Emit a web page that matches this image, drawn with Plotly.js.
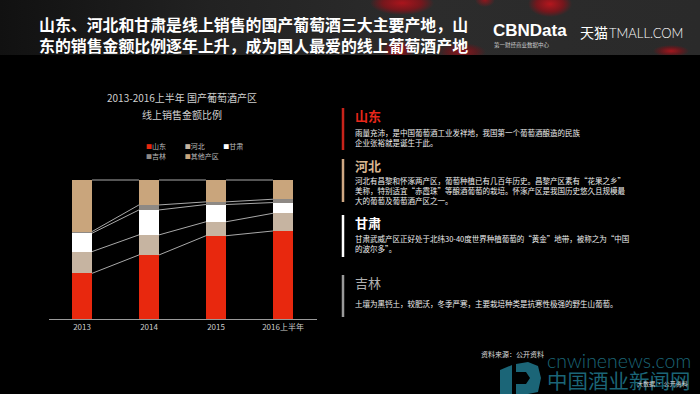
<!DOCTYPE html>
<html><head><meta charset="utf-8">
<script src="https://cdn.plot.ly/plotly-3.0.1.min.js"></script>
<style>
html,body{margin:0;padding:0;background:#000;}
#wrap{position:relative;width:700px;height:394px;background:#000;overflow:hidden;}
#hdr{position:absolute;left:0;top:0;width:700px;height:55px;
  background:
    radial-gradient(ellipse 32px 12px at 402px 3px, rgba(185,18,27,0.9) 0%, rgba(150,14,22,0.7) 60%, rgba(0,0,0,0) 100%),
    radial-gradient(ellipse 16px 10px at 398px 50px, rgba(185,18,27,0.85) 0%, rgba(140,12,20,0.6) 60%, rgba(0,0,0,0) 100%),
    radial-gradient(ellipse 24px 9px at 462px 52px, rgba(165,16,24,0.8) 0%, rgba(130,12,20,0.5) 60%, rgba(0,0,0,0) 100%),
    radial-gradient(ellipse 22px 13px at 550px 4px, rgba(195,20,28,0.9) 0%, rgba(150,14,22,0.7) 60%, rgba(0,0,0,0) 100%),
    radial-gradient(ellipse 10px 7px at 485px 0px, rgba(170,17,25,0.8) 0%, rgba(0,0,0,0) 100%),
    radial-gradient(ellipse 18px 6px at 671px 51px, rgba(185,18,27,0.85) 0%, rgba(140,12,20,0.5) 60%, rgba(0,0,0,0) 100%),
    linear-gradient(90deg,#111 0%,#222 30%,#2c2c2c 60%,#2a2a2a 100%);}
#chart{position:absolute;left:0;top:0;width:700px;height:394px;}
#chart .legendpoints{display:none;}
</style></head>
<body><div id="wrap"><div id="hdr"></div><div id="chart"></div></div>
<script>
// ---- data ----
const categories = ['2013', '2014', '2015', '2016上半年'];
const seriesNames = ['山东', '河北', '甘肃', '吉林', '其他产区'];
const shandong = [33.0, 46.2, 60.0, 63.4];
const hebei    = [15.6, 14.4, 10.0, 12.7];
const gansu    = [13.2, 17.9, 12.4, 7.7];
const jilin    = [1.2, 3.6, 1.9, 2.4];
const others   = [37.0, 17.9, 15.7, 13.8];
const chartTitle = ['2013-2016上半年 国产葡萄酒产区', '线上销售金额比例'];
const headline = ['山东、河北和甘肃是线上销售的国产葡萄酒三大主要产地，山', '东的销售金额比例逐年上升，成为国人最爱的线上葡萄酒产地'];

// ---- styles ----
const W = 700, H = 394;
const px = x => x / W, py = y => 1 - y / H;
const CJK = '"Noto Sans CJK SC", "Noto Sans", sans-serif';
const colors = ['#e8280e', '#c6b4a1', '#ffffff', '#8e8984', '#c9a57c'];
const BAR_W = 0.3;
const seriesValues = [shandong, hebei, gansu, jilin, others];
const legendIds = ['legend', 'legend2', 'legend3', 'legend4', 'legend5'];
const legendPos = [[146, 146.7], [184.7, 146.7], [223.3, 146.7], [146, 156], [184.7, 156]];
const LEG_OFF = 40;
const BODY = 7.5;

const traces = seriesValues.map((vals, s) => ({
  type: 'bar',
  x: categories.map((c, i) => i),
  y: vals,
  width: BAR_W,
  name: '<span style="color:' + colors[s] + ';font-size:6px">■</span>' + seriesNames[s],
  marker: { color: colors[s], line: { width: 0 } },
  legend: legendIds[s],
  hoverinfo: 'skip'
}));

// connector lines between stacked boundaries
let run = categories.map(() => 0);
seriesValues.forEach(v => {
  run = run.map((r, i) => r + v[i]);
  const xs = [], ys = [];
  for (let i = 0; i < categories.length - 1; i++) {
    xs.push(i + BAR_W / 2, i + 1 - BAR_W / 2, null);
    ys.push(run[i], run[i + 1], null);
  }
  traces.push({ type: 'scatter', mode: 'lines', x: xs, y: ys, connectgaps: false,
    line: { color: '#a9a9a9', width: 1 }, showlegend: false, hoverinfo: 'skip', cliponaxis: false });
});

function txt(text, x, y, size, color, o) {
  o = o || {};
  return { text: text, x: px(x), y: py(y), xref: 'paper', yref: 'paper',
    xanchor: o.xa || 'left', yanchor: 'middle', align: o.xa === 'center' ? 'center' : 'left',
    showarrow: false, borderpad: 0,
    font: { family: o.family || CJK, size: size, color: color, weight: o.weight || 'normal' } };
}

const annotations = [
  txt(headline.join('<br>'), 38, 35.4, 15.9, '#ffffff', { weight: 'bold' }),
  txt('CBNData', 492, 30.5, 17, '#ffffff', { weight: 'bold', family: '"Liberation Sans", Arial, sans-serif' }),
  txt('第一财经商业数据中心', 493, 44.5, 5.5, '#cccccc'),
  txt('天猫', 579, 32, 14, '#ffffff'),
  txt('TMALL.COM', 608, 33, 13, '#ffffff', { family: 'Lato, sans-serif', weight: 300 }),
  txt(chartTitle[0], 181.5, 97.7, 10, '#cfcfcf', { xa: 'center' }),
  txt(chartTitle[1], 181.5, 115, 10, '#cfcfcf', { xa: 'center' }),
  txt('山东', 354, 115.5, 13, '#e8271a', { weight: 'bold' }),
  txt('雨量充沛，是中国葡萄酒工业发祥地，我国第一个葡萄酒酿造的民族<br>企业张裕就是诞生于此。', 354, 137.2, BODY, '#eeeeee'),
  txt('河北', 354, 165.5, 13, '#d9b690', { weight: 'bold' }),
  txt('河北有昌黎和怀涿两产区，葡萄种植已有几百年历史。昌黎产区素有“花果之乡”<br>美称，特别适宜“赤霞珠”等酿酒葡萄的栽培。怀涿产区是我国历史悠久且规模最<br>大的葡萄及葡萄酒产区之一。', 354, 190.4, BODY, '#eeeeee'),
  txt('甘肃', 354, 222.7, 13, '#ffffff', { weight: 'bold' }),
  txt('甘肃武威产区正好处于北纬30-40度世界种植葡萄的“黄金”地带，被称之为“中国<br>的波尔多”。', 354, 243.8, BODY, '#eeeeee'),
  txt('吉林', 354, 282.7, 13, '#b0b0b0'),
  txt('土壤为黑钙土，较肥沃，冬季严寒，主要栽培种类是抗寒性极强的野生山葡萄。', 354, 303.3, BODY, '#eeeeee'),
  txt('<span style="font-family:Lato, sans-serif;font-weight:300;font-size:19.5px">cnwinenews.com</span><br><span style="font-size:20.5px">中国酒业新闻网</span>',
      546, 371.5, 16.5, '#1b6577'),
  txt('资料来源：公开资料', 480, 354, 7, '#dddddd'),
  txt('大数据 · 公开资料', 636, 383, 6, '#dddddd')
];

function bar(x, y0, y1, color) {
  return { type: 'line', xref: 'paper', yref: 'paper', x0: px(x), x1: px(x), y0: py(y0), y1: py(y1),
    line: { color: color, width: 2.5 } };
}
function pPath(pts) {
  return 'M' + pts.map(p => px(p[0]) + ',' + py(p[1])).join('L') + 'Z';
}
const shapes = [
  bar(343, 108, 150, '#c8231a'),
  bar(343, 159, 202, '#d0a883'),
  bar(343, 215, 257, '#ffffff'),
  bar(343, 275, 317, '#9a9a9a'),
  { type: 'path', xref: 'paper', yref: 'paper', path: pPath([[500, 370], [512, 365], [512, 394], [500, 394]]),
    fillcolor: '#1b6577', line: { width: 0 }, layer: 'below' },
  { type: 'path', xref: 'paper', yref: 'paper',
    path: pPath([[516, 364], [528, 362], [538, 366], [541, 378], [538, 392], [528, 394], [516, 394], [516, 384], [526, 384], [530, 378], [526, 372], [516, 372]]),
    fillcolor: '#1b6577', line: { width: 0 }, layer: 'below' }
];

const layout = {
  width: W, height: H,
  margin: { l: 0, r: 0, t: 0, b: 0, pad: 0 },
  paper_bgcolor: 'rgba(0,0,0,0)',
  plot_bgcolor: 'rgba(0,0,0,0)',
  barmode: 'stack',
  bargap: 0,
  font: { family: CJK, color: '#ccc' },
  xaxis: {
    domain: [px(48.5), px(316.5)],
    range: [-0.5, categories.length - 0.5],
    tickvals: categories.map((c, i) => i),
    ticktext: categories,
    showgrid: false, zeroline: false,
    showline: true, linecolor: '#9a9a9a', linewidth: 1,
    ticks: '', tickfont: { family: CJK, size: 8, color: '#cccccc' },
    fixedrange: true
  },
  yaxis: {
    domain: [py(319.3), py(180 - 2.79)],
    range: [0, 102],
    visible: false, showgrid: false, zeroline: false, fixedrange: true
  },
  annotations: annotations,
  shapes: shapes,
  showlegend: true
};
legendIds.forEach((id, s) => {
  layout[id] = {
    x: px(legendPos[s][0] - LEG_OFF), y: py(legendPos[s][1]),
    xanchor: 'left', yanchor: 'middle', orientation: 'h',
    bgcolor: 'rgba(0,0,0,0)', borderwidth: 0,
    font: { family: CJK, size: 7, color: '#bbbbbb' },
    itemclick: false, itemdoubleclick: false
  };
});

Plotly.newPlot('chart', traces, layout, { displayModeBar: false, staticPlot: true });
</script>
</body></html>
